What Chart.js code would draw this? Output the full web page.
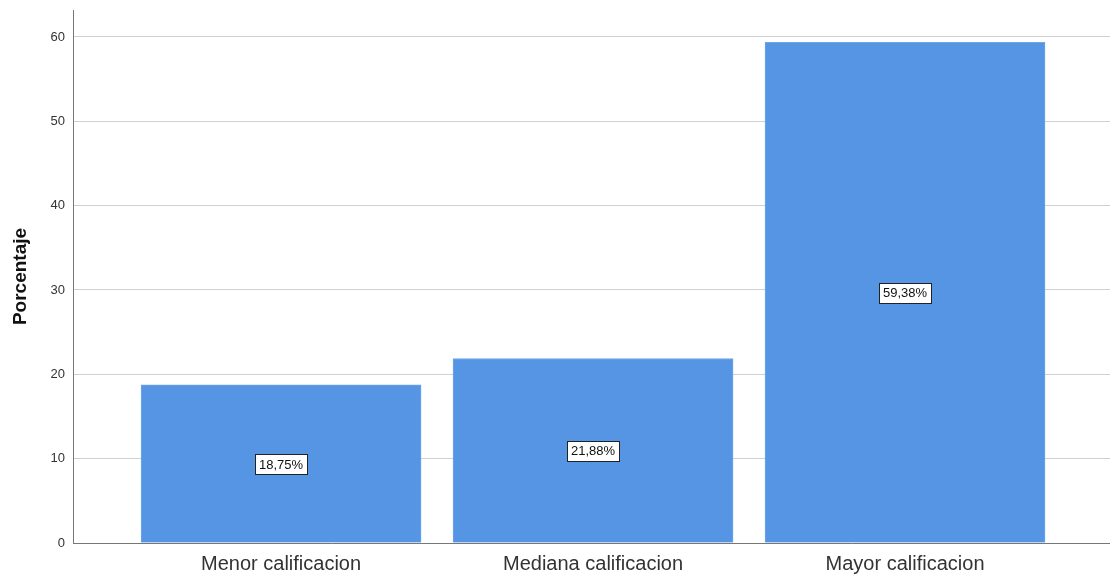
<!DOCTYPE html>
<html>
<head>
<meta charset="utf-8">
<script src="https://cdn.jsdelivr.net/npm/chart.js@4/dist/chart.umd.min.js"></script>
<style>
  html, body { margin: 0; padding: 0; background: #fff; }
  #wrap { width: 1110px; height: 576px; }
</style>
</head>
<body>
<div id="wrap"><canvas id="grafico" width="1110" height="576"></canvas></div>
<script>
// datos del grafico
const categorias = ['Menor calificacion', 'Mediana calificacion', 'Mayor calificacion'];
const porcentajes = [18.75, 21.88, 59.38];
const ticksY = [0, 10, 20, 30, 40, 50, 60];

const colorBarra = '#5595e3';
const fuente = '"Liberation Sans", Arial, sans-serif';

// etiqueta con recuadro blanco en el centro de cada barra
const etiquetasBarras = {
    id: 'etiquetasBarras',
    afterDatasetsDraw(chart) {
        const ctx = chart.ctx;
        const meta = chart.getDatasetMeta(0);
        const y = chart.scales.y;
        ctx.save();
        ctx.font = '13px ' + fuente;
        ctx.textAlign = 'center';
        ctx.textBaseline = 'middle';
        meta.data.forEach((bar, i) => {
            const valor = porcentajes[i];
            const texto = valor.toFixed(2).replace('.', ',') + '%';
            const cy = y.getPixelForValue(valor / 2);
            const w = Math.round(ctx.measureText(texto).width + 8);
            const h = 20;
            const x0 = Math.round(bar.x - w / 2) + 0.5;
            const y0 = Math.round(cy - h / 2) + 0.5;
            ctx.fillStyle = '#fff';
            ctx.fillRect(x0, y0, w, h);
            ctx.strokeStyle = '#222';
            ctx.lineWidth = 1;
            ctx.strokeRect(x0, y0, w, h);
            ctx.fillStyle = '#111';
            ctx.fillText(texto, bar.x, cy + 1);
        });
        ctx.restore();
    }
};

new Chart(document.getElementById('grafico'), {
    type: 'bar',
    data: {
        datasets: [{
            data: porcentajes.map((v, i) => ({ x: i, y: v })),
            backgroundColor: colorBarra,
            borderColor: '#6ea6ea',
            borderWidth: 1,
            barThickness: 280
        }]
    },
    options: {
        responsive: false,
        animation: false,
        layout: { padding: { top: 10, right: 0, left: 0, bottom: 0 } },
        plugins: {
            legend: { display: false },
            tooltip: { enabled: false }
        },
        scales: {
            x: {
                type: 'linear',
                offset: false,
                min: -0.667,
                max: 2.657,
                afterFit: (s) => { s.height = 33; },
                afterBuildTicks: (s) => { s.ticks = categorias.map((c, i) => ({ value: i })); },
                grid: { display: false, drawTicks: false, offset: false },
                border: { color: '#777', width: 1 },
                ticks: {
                    padding: 9,
                    color: '#333',
                    font: { size: 20, family: fuente },
                    callback: (v) => categorias[v]
                }
            },
            y: {
                min: 0,
                max: 63.2,
                afterFit: (s) => { s.width = 73; s.paddingTop = 0; s.paddingBottom = 0; },
                afterBuildTicks: (s) => { s.ticks = ticksY.map(v => ({ value: v })); },
                grid: { color: '#d0d0d0', lineWidth: 1, drawTicks: false },
                border: { color: '#777', width: 1 },
                ticks: {
                    padding: 8,
                    color: '#333',
                    font: { size: 13, family: fuente }
                },
                title: {
                    display: true,
                    text: 'Porcentaje',
                    color: '#111',
                    padding: { top: 9, bottom: 6 },
                    font: { size: 19, weight: 'bold', family: fuente }
                }
            }
        }
    },
    plugins: [etiquetasBarras]
});
</script>
</body>
</html>
